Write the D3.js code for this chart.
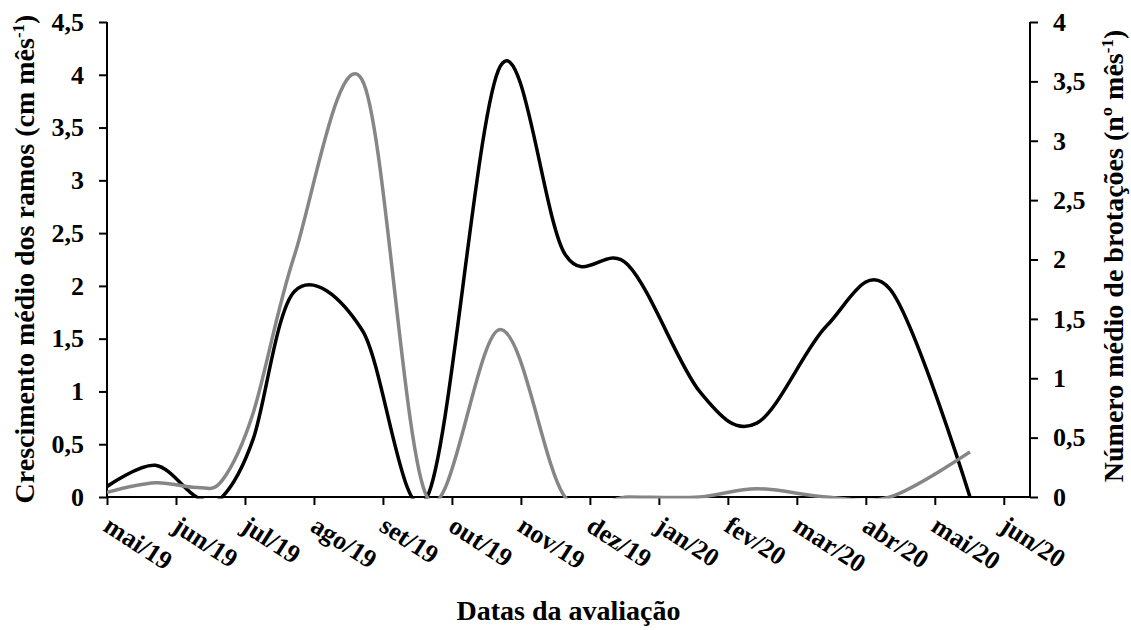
<!DOCTYPE html>
<html>
<head>
<meta charset="utf-8">
<script src="https://cdnjs.cloudflare.com/ajax/libs/d3/7.8.5/d3.min.js"></script>
<style>
    body { margin: 0; background: #fff; }
    svg { font-family: "Liberation Serif", "Times New Roman", serif; font-weight: bold; }
</style>
</head>
<body>
<svg id="grafico" width="1131" height="630"></svg>
<script>
// meses do eixo x
var meses = ["mai/19", "jun/19", "jul/19", "ago/19", "set/19", "out/19", "nov/19",
    "dez/19", "jan/20", "fev/20", "mar/20", "abr/20", "mai/20", "jun/20"];

// posicao das avaliacoes (meses desde mai/19)
var avaliacoes = [0, 0.70, 1.30, 1.67, 2.12, 2.72, 3.70, 4.64, 5.70, 6.64, 7.55, 8.59, 9.42, 10.43, 11.35, 12.51];

// crescimento medio dos ramos (cm mes-1) - eixo esquerdo, linha preta
var crescimento = [0.10, 0.30, 0, 0, 0.55, 1.95, 1.58, 0, 4.08, 2.30, 2.20, 1.00, 0.70, 1.62, 1.97, 0];

// numero medio de brotacoes (n mes-1) - eixo direito, linha cinza
var brotacoes = [0.04, 0.12, 0.08, 0.14, 0.71, 2.04, 3.51, 0, 1.41, 0, 0, 0, 0.07, 0, 0, 0.38];

var ticksEsq = [0, 0.5, 1, 1.5, 2, 2.5, 3, 3.5, 4, 4.5];
var ticksDir = [0, 0.5, 1, 1.5, 2, 2.5, 3, 3.5, 4];

var svg = d3.select("#grafico");

var xIni = 107, xFim = 1030, yTopo = 22, yBase = 497;

var x = d3.scaleLinear().domain([0, 13.38]).range([xIni, xFim]);
var yEsq = d3.scaleLinear().domain([0, 4.5]).range([yBase, yTopo]);
var yDir = d3.scaleLinear().domain([0, 4]).range([yBase, yTopo]);

var virgula = function(d) { return String(d).replace(".", ","); };

svg.append("defs").append("clipPath")
    .attr("id", "area")
    .append("rect")
    .attr("x", xIni)
    .attr("y", yTopo - 5)
    .attr("width", xFim - xIni)
    .attr("height", yBase - yTopo + 6.5);

// eixo esquerdo
var gEsq = svg.append("g")
    .attr("transform", "translate(" + xIni + ",0)")
    .call(d3.axisLeft(yEsq).tickValues(ticksEsq).tickSize(8).tickPadding(15).tickFormat(virgula));

// eixo direito
var gDir = svg.append("g")
    .attr("transform", "translate(" + xFim + ",0)")
    .call(d3.axisRight(yDir).tickValues(ticksDir).tickSize(8).tickPadding(15).tickFormat(virgula));

// eixo x
var gX = svg.append("g")
    .attr("transform", "translate(0," + yBase + ")")
    .call(d3.axisBottom(x).tickValues(d3.range(meses.length)).tickSize(8).tickFormat(""));

[gEsq, gDir, gX].forEach(function(g) {
    g.select(".domain").attr("stroke", "#000").attr("stroke-width", 2);
    g.selectAll(".tick line").attr("stroke", "#000").attr("stroke-width", 2);
    g.selectAll("text")
        .attr("fill", "#000")
        .style("font-size", "26px")
        .style("font-family", "Liberation Serif, serif")
        .style("font-weight", "bold");
});

gEsq.select(".domain").attr("d", "M0," + yTopo + "V" + yBase);
gDir.select(".domain").attr("d", "M0," + yTopo + "V" + yBase);
gX.select(".domain").attr("d", "M" + xIni + ",0H" + xFim);

// rotulos dos meses
svg.append("g")
    .selectAll("text")
    .data(meses)
    .enter().append("text")
    .attr("transform", function(d, i) { return "translate(" + (x(i) - 5) + ",530) rotate(33)"; })
    .style("font-size", "26px")
    .attr("text-anchor", "start")
    .text(function(d) { return d; });

var linha = d3.line().curve(d3.curveCardinal.tension(0));

var plot = svg.append("g").attr("clip-path", "url(#area)");

plot.append("path")
    .attr("d", linha(avaliacoes.map(function(m, i) { return [x(m), yEsq(crescimento[i])]; })))
    .attr("fill", "none")
    .attr("stroke", "#000")
    .attr("stroke-width", 3.5);

plot.append("path")
    .attr("d", linha(avaliacoes.map(function(m, i) { return [x(m), yDir(brotacoes[i])]; })))
    .attr("fill", "none")
    .attr("stroke", "#868686")
    .attr("stroke-width", 3.5);

// titulos
var tEsq = svg.append("text")
    .attr("transform", "translate(34,259) rotate(-90)")
    .attr("text-anchor", "middle")
    .style("font-size", "28px");
tEsq.append("tspan").text("Crescimento médio dos ramos (cm mês");
tEsq.append("tspan").attr("dy", -10).style("font-size", "17px").text("-1");
tEsq.append("tspan").attr("dy", 10).text(")");

var tDir = svg.append("text")
    .attr("transform", "translate(1123,256) rotate(-90)")
    .attr("text-anchor", "middle")
    .style("font-size", "28px");
tDir.append("tspan").text("Número médio de brotações (nº mês");
tDir.append("tspan").attr("dy", -10).style("font-size", "17px").text("-1");
tDir.append("tspan").attr("dy", 10).text(")");

svg.append("text")
    .attr("x", (xIni + xFim) / 2)
    .attr("y", 620)
    .attr("text-anchor", "middle")
    .style("font-size", "28px")
    .text("Datas da avaliação");
</script>
</body>
</html>
